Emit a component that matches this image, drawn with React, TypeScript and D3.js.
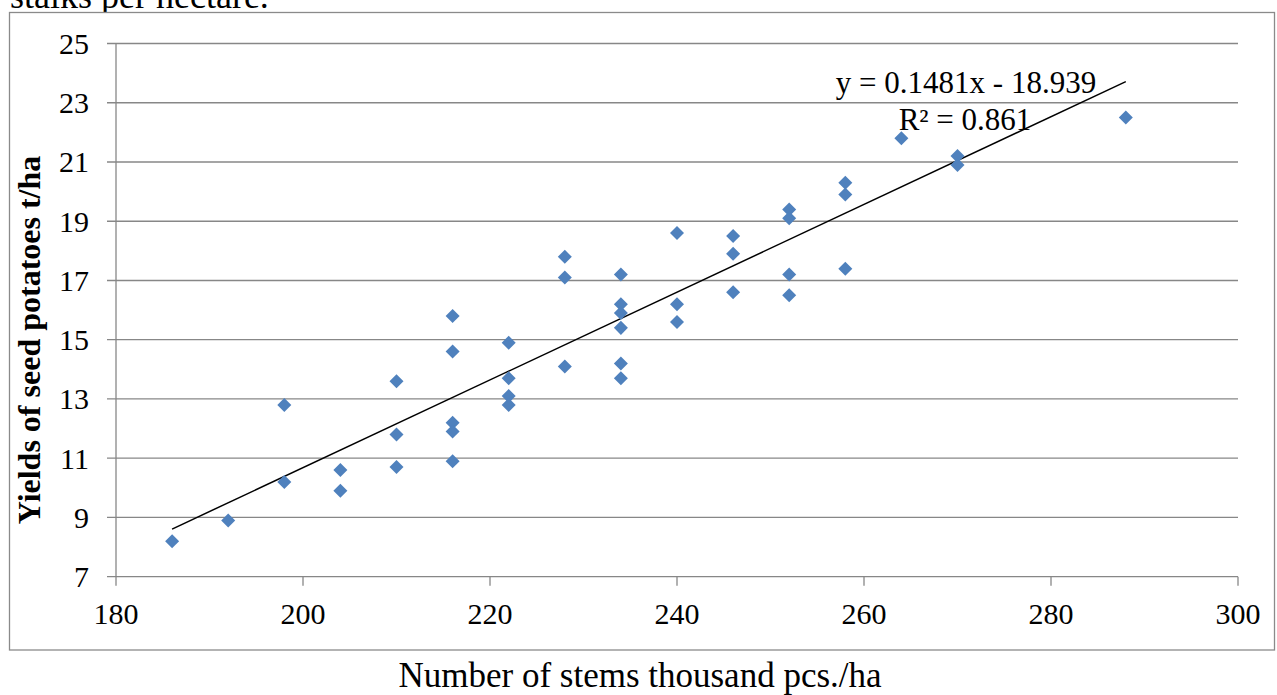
import React from "react";
import * as d3 from "d3";

const stems: number[] = [
  186, 192, 198, 198, 204, 204, 210, 210, 210, 216, 216, 216, 216, 216,
  222, 222, 222, 222, 228, 228, 228, 234, 234, 234, 234, 234, 234,
  240, 240, 240, 246, 246, 246, 252, 252, 252, 252, 258, 258, 258,
  264, 270, 270, 288,
];
const yields: number[] = [
  8.2, 8.9, 12.8, 10.2, 10.6, 9.9, 13.6, 11.8, 10.7, 15.8, 14.6, 12.2, 11.9, 10.9,
  14.9, 13.7, 13.1, 12.8, 17.8, 17.1, 14.1, 17.2, 16.2, 15.9, 15.4, 14.2, 13.7,
  18.6, 16.2, 15.6, 18.5, 17.9, 16.6, 19.4, 19.1, 17.2, 16.5, 20.3, 19.9, 17.4,
  21.8, 21.2, 20.9, 22.5,
];
const xTicks: number[] = [180, 200, 220, 240, 260, 280, 300];
const yTicks: number[] = [7, 9, 11, 13, 15, 17, 19, 21, 23, 25];
const slope = 0.1481;
const intercept = -18.939;
const trendRange: number[] = [186, 288];
const equationText = "y = 0.1481x - 18.939";
const r2Text = "R² = 0.861";
const xTitle = "Number of stems thousand pcs./ha";
const yTitle = "Yields of seed potatoes t/ha";
const topText = "stalks per hectare.";

export default function App() {
  const W = 1277;
  const H = 695;
  const x = d3.scaleLinear().domain([180, 300]).range([116, 1238]);
  const y = d3.scaleLinear().domain([7, 25]).range([576.7, 43.5]);
  const font = "'Liberation Serif', 'Times New Roman', serif";
  const grid = "#878787";
  const line = d3.line<number>().x((d) => x(d)).y((d) => y(slope * d + intercept));
  const diamond = d3.symbol().type(d3.symbolDiamond2).size(125)();

  return (
    <svg
      width={W}
      height={H}
      style={{ position: "absolute", left: 0, top: 0, background: "#fff" }}
      fontFamily={font}
    >
      <rect x={0} y={0} width={W} height={H} fill="#fff" />
      <text x={10} y={8} fontSize={36} fill="#000">{topText}</text>
      <rect x={9.5} y={12.5} width={1265} height={637.5} fill="#fff" stroke="#8a8a8a" strokeWidth={1.3} />
      {yTicks.map((t) => (
        <g key={"y" + t}>
          <line x1={107} x2={1238} y1={y(t)} y2={y(t)} stroke={grid} strokeWidth={1.3} />
          <text x={89} y={y(t) + 10.5} fontSize={30} textAnchor="end" fill="#000">{t}</text>
        </g>
      ))}
      <line x1={x(180)} x2={x(180)} y1={y(25)} y2={y(7)} stroke={grid} strokeWidth={1.3} />
      {xTicks.map((t) => (
        <g key={"x" + t}>
          <line x1={x(t)} x2={x(t)} y1={y(7)} y2={y(7) + 9} stroke={grid} strokeWidth={1.3} />
          <text x={x(t)} y={624} fontSize={30} textAnchor="middle" fill="#000">{t}</text>
        </g>
      ))}
      <path d={line(trendRange) || ""} stroke="#000" strokeWidth={1.5} fill="none" />
      {stems.map((s, i) => (
        <path
          key={"p" + i}
          d={diamond || ""}
          transform={`translate(${x(s)},${y(yields[i])})`}
          fill="#4F81BD"
        />
      ))}
      <text x={966} y={93} fontSize={31} textAnchor="middle" fill="#000">{equationText}</text>
      <text x={965} y={130} fontSize={31} textAnchor="middle" fill="#000">{r2Text}</text>
      <text x={640} y={687} fontSize={35} textAnchor="middle" fill="#000">{xTitle}</text>
      <text
        transform={`translate(40,340) rotate(-90)`}
        fontSize={32}
        fontWeight="bold"
        textAnchor="middle"
        fill="#000"
      >
        {yTitle}
      </text>
    </svg>
  );
}
